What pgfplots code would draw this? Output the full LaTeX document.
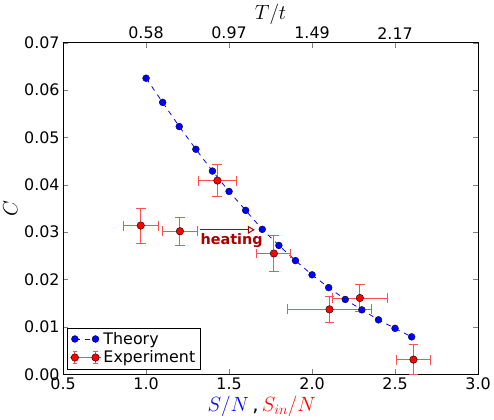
\documentclass[border=0pt]{standalone}
\usepackage{fontspec}
\setmainfont{DejaVu Sans}
\usepackage{pgfplots}
\pgfplotsset{compat=1.18}
\usetikzlibrary{arrows.meta}
\definecolor{errred}{RGB}{255,80,80}
\definecolor{heatred}{RGB}{170,0,0}
\pgfplotsset{
  twopoint legend/.style={
    legend image code/.code={\draw[##1] plot coordinates {(0cm,0cm) (0.73cm,0cm)};}},
  exp legend/.style={
    legend image code/.code={
      \draw[errred, line width=0.8pt] (-0.18cm,0cm) -- (0.91cm,0cm);
      \draw[errred, line width=0.8pt] (0cm,-0.2cm) -- (0cm,0.2cm) (0.73cm,-0.2cm) -- (0.73cm,0.2cm);
      \draw[errred, line width=0.8pt] (-0.08cm,0.2cm) -- (0.08cm,0.2cm) (-0.08cm,-0.2cm) -- (0.08cm,-0.2cm);
      \draw[errred, line width=0.8pt] (0.65cm,0.2cm) -- (0.81cm,0.2cm) (0.65cm,-0.2cm) -- (0.81cm,-0.2cm);
      \fill[red, draw=black, line width=0.4pt] (0cm,0cm) circle (3.8pt) (0.73cm,0cm) circle (3.8pt);
    }},
}

\begin{document}
\begin{tikzpicture}[font=\fontsize{16}{18}\selectfont]
\begin{axis}[
  name=main,
  width=418pt, height=334pt, scale only axis,
  xmin=0.5, xmax=3.0, ymin=0, ymax=0.07,
  xtick={0.5,1.0,1.5,2.0,2.5,3.0},
  ytick={0,0.01,0.02,0.03,0.04,0.05,0.06,0.07},
  xtick pos=bottom,
  every tick label/.append style={font=\fontsize{16}{18}\selectfont},
  x tick label style={/pgf/number format/.cd, fixed, fixed zerofill, precision=1},
  y tick label style={/pgf/number format/.cd, fixed, fixed zerofill, precision=2},
  scaled y ticks=false,
  /pgf/number format/assume math mode=true,
  tick align=inside,
  major tick length=5pt,
  axis line style={line width=0.8pt},
  xlabel={\fontsize{20}{22}\selectfont\textcolor{blue}{$S/N$}\,,\,\textcolor{red}{$S_{in}/N$}},
  xlabel style={yshift=1pt, xshift=-9pt},
  ylabel={\fontsize{20}{22}\selectfont $C$},
  legend style={at={(0.01,0.016)}, anchor=south west, draw=black,
    font=\fontsize{16}{18}\selectfont, row sep=0pt, inner sep=2pt,
    nodes={inner sep=2.5pt}},
  legend cell align=left,
  clip=false,
]
% theory curve
\addplot[blue, line width=0.8pt, dash pattern=on 5pt off 5pt, mark=*, mark size=3.5pt,
  mark options={solid, fill=blue, draw=black, line width=0.3pt}, twopoint legend]
  coordinates {
  (1.0,0.0625) (1.1,0.0574) (1.2,0.0523) (1.3,0.0475) (1.4,0.0429)
  (1.5,0.0386) (1.6,0.0346) (1.7,0.0306) (1.8,0.0272) (1.9,0.0240)
  (2.0,0.0210) (2.1,0.0183) (2.2,0.0158) (2.3,0.0136) (2.4,0.0115)
  (2.5,0.0097) (2.6,0.0079)
};
\addlegendentry{Theory}
% experiment
\addplot[only marks, mark=*, mark size=3.8pt,
  mark options={fill=red, draw=black, line width=0.4pt}, exp legend,
  error bars/.cd, x dir=both, x explicit, y dir=both, y explicit,
  error bar style={errred, line width=1pt},
  error mark options={rotate=90, errred, mark size=5pt, line width=1pt}]
  coordinates {
  (0.968,0.0314) +- (0.104,0.0037)
  (1.204,0.0302) +- (0.104,0.0030)
  (1.430,0.0409) +- (0.114,0.0034)
  (1.770,0.0255) +- (0.103,0.0037)
  (2.105,0.0137) +- (0.253,0.0028)
  (2.288,0.0161) +- (0.166,0.0028)
  (2.611,0.0031) +- (0.103,0.0031)
};
\addlegendentry{Experiment}
% annotation
\draw[heatred, line width=1pt, -{Triangle[open, length=7pt, width=8pt]}]
  (axis cs:1.327,0.0305) -- (axis cs:1.655,0.0305);
\node[heatred, font=\bfseries\fontsize{14.5}{16}\selectfont, anchor=base west, inner sep=0pt]
  at (axis cs:1.327,0.0275) {heating};
\end{axis}
\begin{axis}[
  width=418pt, height=334pt, scale only axis,
  xmin=0.5, xmax=3.0, ymin=0, ymax=0.07,
  axis x line*=top, hide y axis,
  xtick={1.0,1.5,2.0,2.5}, xticklabels={0.58,0.97,1.49,2.17},
  every tick label/.append style={font=\fontsize{16}{18}\selectfont},
  tick align=inside, major tick length=5pt,
  axis line style={line width=0.8pt},
  xlabel={\fontsize{20}{22}\selectfont $T/t$},
  xlabel style={yshift=-4pt},
]
\addplot[draw=none] coordinates {(1,0.01)};
\end{axis}
\path ([shift={(-62pt,-39pt)}]main.south west) rectangle ([shift={(14pt,43pt)}]main.north east);
\end{tikzpicture}
\end{document}
